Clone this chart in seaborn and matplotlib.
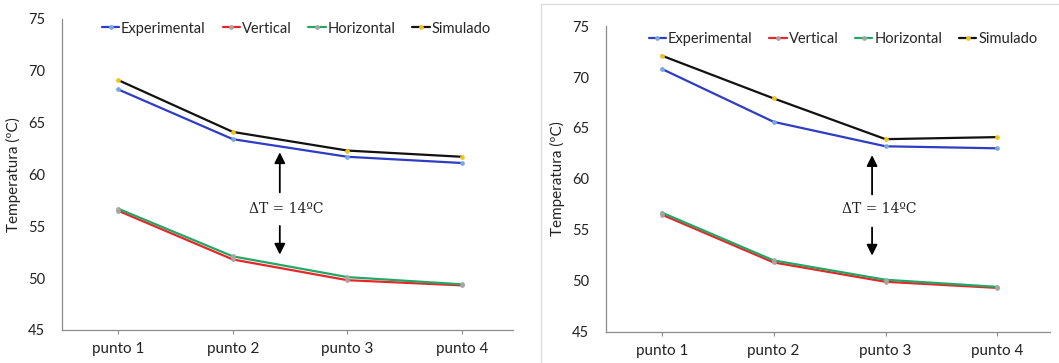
import matplotlib
matplotlib.use("Agg")
import matplotlib.pyplot as plt
import seaborn as sns
import pandas as pd
from matplotlib.patches import Rectangle

categories = ["punto 1", "punto 2", "punto 3", "punto 4"]
series_names = ["Experimental", "Vertical", "Horizontal", "Simulado"]

left_experimental = [68.2, 63.4, 61.7, 61.1]
left_vertical = [56.5, 51.8, 49.8, 49.3]
left_horizontal = [56.7, 52.1, 50.1, 49.4]
left_simulado = [69.1, 64.1, 62.3, 61.7]

right_experimental = [70.8, 65.6, 63.2, 63.0]
right_vertical = [56.5, 51.8, 49.9, 49.3]
right_horizontal = [56.7, 52.0, 50.1, 49.4]
right_simulado = [72.1, 67.9, 63.9, 64.1]

yticks = [45, 50, 55, 60, 65, 70, 75]
delta_label = "ΔT = 14ºC"

line_colors = {"Experimental": "#2f3cc4", "Vertical": "#e8262a",
               "Horizontal": "#22a866", "Simulado": "#111111"}
marker_colors = {"Experimental": "#78a8e0", "Vertical": "#b0a0a0",
                 "Horizontal": "#a0a8a0", "Simulado": "#f0c419"}

sns.set_style("white")
plt.rcParams["font.family"] = ["Lato", "DejaVu Sans"]

fig = plt.figure(figsize=(10.59, 3.63), dpi=100)
ax1 = fig.add_axes([0.0585, 0.091, 0.4255, 0.857])
ax2 = fig.add_axes([0.572, 0.0862, 0.4195, 0.842])


def make_df(vals):
    rows = []
    for name, v in zip(series_names, vals):
        for i, (c, y) in enumerate(zip(categories, v)):
            rows.append({"x": i, "serie": name, "y": y})
    return pd.DataFrame(rows)


def draw(ax, vals, xlim, arrow_x, up_tip, up_tail, text_y, down_tail, down_tip, leg_anchor):
    df = make_df(vals)
    sns.lineplot(data=df, x="x", y="y", hue="serie", hue_order=series_names,
                 palette=line_colors, marker="o", markersize=2.6, linewidth=1.6,
                 ax=ax, legend=False)
    for line, name in zip(ax.lines, series_names):
        line.set_markerfacecolor(marker_colors[name])
        line.set_markeredgecolor(marker_colors[name])
        line.set_label(name)
    ax.set_xlim(*xlim)
    ax.set_ylim(45, 75)
    ax.set_yticks(yticks)
    ax.set_xticks(range(len(categories)))
    ax.set_xticklabels(categories)
    ax.set_xlabel("")
    ax.set_ylabel("Temperatura (ºC)", fontsize=11, labelpad=5, color="#222222")
    for s in ["top", "right"]:
        ax.spines[s].set_visible(False)
    for s in ["left", "bottom"]:
        ax.spines[s].set_color("#8c8c8c")
        ax.spines[s].set_linewidth(0.9)
    ax.tick_params(axis="y", length=0, labelsize=10.5, pad=12, colors="#222222")
    ax.tick_params(axis="x", length=3, color="#8c8c8c", labelsize=11, pad=6,
                   labelcolor="#222222", bottom=True)
    ax.annotate("", xy=(arrow_x, up_tip), xytext=(arrow_x, up_tail),
                arrowprops=dict(arrowstyle="-|>", mutation_scale=16, lw=1.3, color="black"))
    ax.annotate("", xy=(arrow_x, down_tip), xytext=(arrow_x, down_tail),
                arrowprops=dict(arrowstyle="-|>", mutation_scale=16, lw=1.3, color="black"))
    ax.text(arrow_x + 0.06, text_y, delta_label, ha="center", va="center",
            fontsize=10, family=["DejaVu Serif"], color="#222222")
    ax.legend(handles=ax.lines[:4], labels=series_names, loc="upper center",
              bbox_to_anchor=leg_anchor, ncol=4, frameon=False, fontsize=10.5,
              handlelength=1.2, handletextpad=0.12, columnspacing=1.15,
              borderaxespad=0)


draw(ax1, [left_experimental, left_vertical, left_horizontal, left_simulado],
     (-0.49, 3.44), 1.41, 62.4, 58.0, 56.7, 55.3, 52.0, (0.52, 1.01))
draw(ax2, [right_experimental, right_vertical, right_horizontal, right_simulado],
     (-0.5, 3.47), 1.88, 62.6, 58.2, 57.0, 55.5, 52.2, (0.534, 1.0))

fig.patches.append(Rectangle((541 / 1059, -0.05), 0.6, 1.05 - 4 / 363,
                             transform=fig.transFigure, fill=False,
                             edgecolor="#dcdcdc", lw=1.0))

fig.savefig("out.png", dpi=100)
